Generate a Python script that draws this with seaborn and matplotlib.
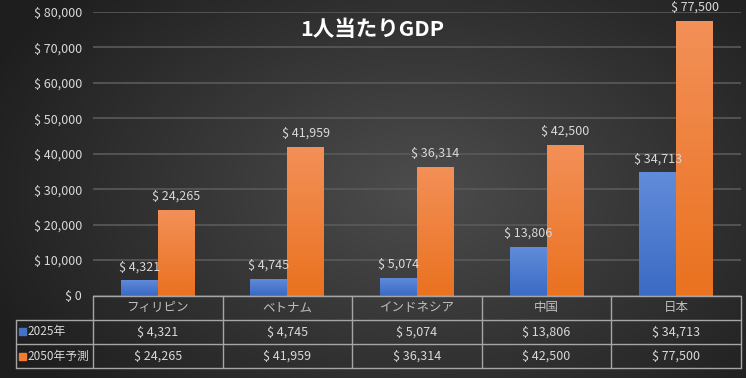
import matplotlib
matplotlib.use("Agg")
import matplotlib.pyplot as plt
import matplotlib.transforms as mtransforms
from matplotlib.patches import Rectangle
import numpy as np
import pandas as pd
import seaborn as sns

countries = ["フィリピン", "ベトナム", "インドネシア", "中国", "日本"]
series_names = ["2025年", "2050年予測"]
gdp_2025 = [4321, 4745, 5074, 13806, 34713]
gdp_2050 = [24265, 41959, 36314, 42500, 77500]
yticks = [0, 10000, 20000, 30000, 40000, 50000, 60000, 70000, 80000]

df = pd.DataFrame({
    "country": countries * 2,
    "series": [series_names[0]] * 5 + [series_names[1]] * 5,
    "gdp": gdp_2025 + gdp_2050,
})

sns.set_theme(style="white")
plt.rcParams["font.family"] = ["Noto Sans CJK JP", "DejaVu Sans"]

txt = "#d9d9d9"
grid_c = "#5a5a5a"
line_c = "#a6a6a6"
blue_top, blue_bot = np.array([0x62, 0x8c, 0xda]) / 255, np.array([0x3b, 0x6b, 0xc4]) / 255
orng_top, orng_bot = np.array([0xf3, 0x90, 0x58]) / 255, np.array([0xea, 0x72, 0x20]) / 255

fig = plt.figure(figsize=(7.46, 3.78), dpi=100)

# background radial gradient
bg = fig.add_axes([0, 0, 1, 1], zorder=-5)
yy, xx = np.mgrid[0:378, 0:746]
r = np.sqrt(((xx - 420) / 520.0) ** 2 + ((yy - 190) / 330.0) ** 2)
v = np.clip(0.30 - 0.20 * r, 0.12, 0.30)
bg.imshow(np.dstack([v, v, v]), aspect="auto", extent=[0, 1, 0, 1])
bg.axis("off")

ax = fig.add_axes([93 / 746, 82.5 / 378, 648 / 746, 283.5 / 378])
ax.patch.set_alpha(0)
sns.barplot(data=df, x="country", y="gdp", hue="series",
            palette=["#4472C4", "#ED7D31"], width=0.57, gap=0,
            saturation=1, ax=ax, legend=False, zorder=3)

ax.set_xlim(-0.5, 4.5)
ax.set_ylim(0, 80000)
ax.set_yticks(yticks)
ax.set_yticklabels([f"$ {t:,}" for t in yticks], color=txt, fontsize=9)
ax.tick_params(axis="y", length=0, pad=8)
ax.set_xticks([])
ax.set_xlabel("")
ax.set_ylabel("")
for s in ax.spines.values():
    s.set_visible(False)
ax.yaxis.grid(True, color=grid_c, linewidth=1.2)
ax.set_axisbelow(True)

# gradient fill on bars
for i, cont in enumerate(ax.containers):
    top, bot = (blue_top, blue_bot) if i == 0 else (orng_top, orng_bot)
    grad = np.linspace(0, 1, 64)[:, None]
    img = top[None, None, :] * (1 - grad[..., None]) + bot[None, None, :] * grad[..., None]
    for p in cont.patches:
        x0, y0 = p.get_x(), p.get_y()
        w, h = p.get_width(), p.get_height()
        im = ax.imshow(img, extent=[x0, x0 + w, y0, y0 + h], aspect="auto",
                       zorder=3.5, origin="upper")
        im.set_clip_path(p)
        p.set_edgecolor("none")
    vals = gdp_2025 if i == 0 else gdp_2050
    ax.bar_label(cont, labels=[f"$ {v:,}" for v in vals], padding=5,
                 color=txt, fontsize=9, zorder=5)
ax.set_xlim(-0.5, 4.5)
ax.set_ylim(0, 80000)

# data table under the axis
trans = mtransforms.blended_transform_factory(ax.transData, ax.transAxes)
rh = 24.3 / 283.5
lx = (16 - 93) / 648
kw = dict(color=line_c, linewidth=1.0, clip_on=False, zorder=6)
ax.plot([0, 1], [0, 0], transform=ax.transAxes, **kw)
for k in (1, 2, 3):
    ax.plot([lx, 1], [-k * rh, -k * rh], transform=ax.transAxes, **kw)
ax.plot([lx, lx], [-rh, -3 * rh], transform=ax.transAxes, **kw)
for e in np.arange(-0.5, 5, 1.0):
    ax.plot([e, e], [0, -3 * rh], transform=trans, **kw)

for j, c in enumerate(countries):
    ax.text(j, -0.5 * rh, c, transform=trans, ha="center", va="center",
            color="#bfbfbf", fontsize=9)
    ax.text(j, -1.5 * rh, f"$ {gdp_2025[j]:,}", transform=trans, ha="center",
            va="center", color=txt, fontsize=9)
    ax.text(j, -2.5 * rh, f"$ {gdp_2050[j]:,}", transform=trans, ha="center",
            va="center", color=txt, fontsize=9)

for k, (name, col) in enumerate(zip(series_names, ["#4472C4", "#ED7D31"])):
    yc = -(k + 1.5) * rh
    ax.add_patch(Rectangle((lx + 3 / 648, yc - 3.5 / 283.5), 7 / 648, 7 / 283.5,
                           transform=ax.transAxes, color=col, clip_on=False, zorder=6))
    ax.text(lx + 11 / 648, yc, name, transform=ax.transAxes, ha="left",
            va="center", color=txt, fontsize=8.5)

fig.text(372 / 746, 1 - 30 / 378, "1人当たりGDP", ha="center", va="center",
         color="white", fontsize=15.5, fontweight="bold")

fig.savefig("out.png", dpi=100)
